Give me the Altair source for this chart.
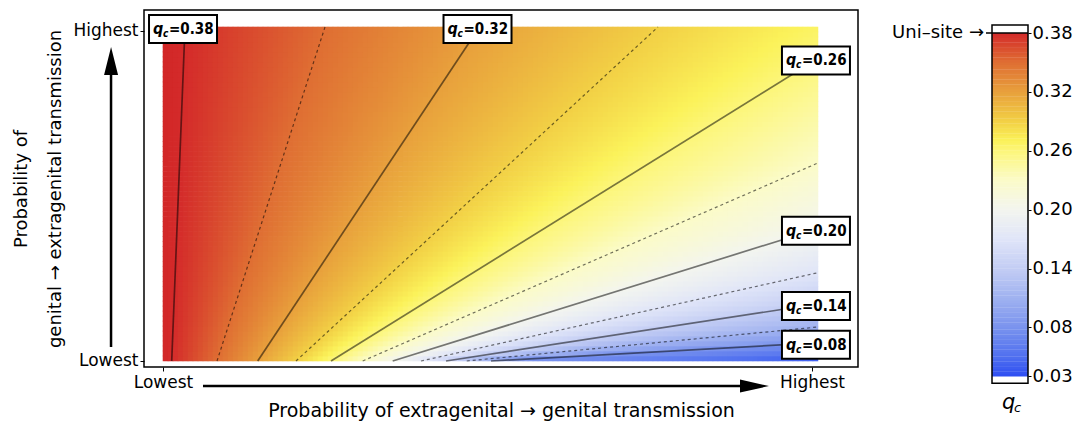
import numpy as np
import pandas as pd
import altair as alt

# ---------------- values ----------------
# contour levels (solid = labelled, dashed = intermediate)
levels    = [0.38, 0.35, 0.32, 0.29, 0.26, 0.23, 0.20, 0.17, 0.14, 0.11, 0.08]
line_kind = ["solid", "dashed", "solid", "dashed", "solid", "dashed",
             "solid", "dashed", "solid", "dashed", "solid"]
# each contour starts on the lower edge (y = 0) and ends on the top or right edge
# (0 = "Lowest", 1 = "Highest")
start_x = [0.0134, 0.0832, 0.1459, 0.2049, 0.2589, 0.3077,
           0.3539, 0.3975, 0.4361, 0.4680, 0.5054]
end_x   = [0.0339, 0.2496, 0.4877, 0.7627, 1.0092, 1.0092,
           1.0092, 1.0092, 1.0092, 1.0092, 1.0092]
end_y   = [1.0121, 1.0121, 1.0121, 1.0121, 0.9167, 0.6000,
           0.4009, 0.2676, 0.1730, 0.1030, 0.0552]
left_edge_q    = 0.385   # value along the left edge
top_right_q    = 0.267   # value in the top-right corner
bottom_right_q = 0.035   # value in the bottom-right corner
label_levels = [0.38, 0.32, 0.26, 0.20, 0.14, 0.08]
cbar_ticks   = [0.38, 0.32, 0.26, 0.20, 0.14, 0.08, 0.03]
cbar_min, cbar_max = 0.03, 0.38
uni_site_q = 0.38
tick_values = [0, 1]
tick_labels = ["Lowest", "Highest"]
x_title = "Probability of extragenital → genital transmission"
y_title = ["Probability of", "genital → extragenital transmission"]

# ---------------- style / layout constants ----------------
FONT = "DejaVu Sans"
LFONT = "DejaVu Sans Condensed, DejaVu Sans"
FIELD_X_MAX, FIELD_Y_MAX = 1.0092, 1.0121
color_stops = [0.03, 0.05, 0.08, 0.11, 0.14, 0.17, 0.20, 0.23, 0.26, 0.27,
               0.29, 0.32, 0.35, 0.38, 0.39]
color_hex = ["#2e4ef2", "#5070ef", "#7a93ee", "#a0b2f0", "#c3cdf4", "#e0e5f8",
             "#f3f5ef", "#fbfbc8", "#fcf67a", "#fbf25a", "#f2d045", "#e8a03c",
             "#df6e33", "#d42a2a", "#cf2424"]
cscale = alt.Scale(domain=color_stops, range=color_hex, interpolate="rgb", clamp=True)
xsc = alt.Scale(domain=[-0.0293, 1.0709], nice=False, zero=False)
ysc = alt.Scale(domain=[-0.0182, 1.0636], nice=False, zero=False)

# ---------------- density field built from the contour readings ----------------
NX, NY = 131, 67
xs = (np.arange(NX) + 0.5) * FIELD_X_MAX / NX
ys = (np.arange(NY) + 0.5) * FIELD_Y_MAX / NY
right = sorted([(ey, lv) for lv, ex, ey in zip(levels, end_x, end_y) if ex >= 1.0])
right_y = [0.0] + [r[0] for r in right] + [FIELD_Y_MAX]
right_q = [bottom_right_q] + [r[1] for r in right] + [top_right_q]
recs = []
for yc in ys:
    kx, kq = [0.0], [left_edge_q]
    for lv, sx, ex, ey in zip(levels, start_x, end_x, end_y):
        if yc <= ey:
            kx.append(sx + (ex - sx) * yc / ey)
            kq.append(lv)
    kx.append(FIELD_X_MAX)
    kq.append(float(np.interp(yc, right_y, right_q)))
    qrow = np.interp(xs, kx, kq)
    for xc, q in zip(xs, qrow):
        recs.append((round(float(xc), 5), round(float(yc), 5), round(float(q), 5)))
heat_df = pd.DataFrame(recs, columns=["xc", "yc", "q"])
hx = FIELD_X_MAX / NX / 2 * 1.12
hy = FIELD_Y_MAX / NY / 2 * 1.12

lab_expr = " : ".join(f"datum.value == {v} ? '{t}'" for v, t in zip(tick_values, tick_labels)) + " : ''"
axis_common = dict(values=tick_values, labelExpr=lab_expr, grid=False, domain=False,
                   tickSize=4, tickColor="black", labelColor="black", titleColor="black",
                   labelFont=FONT, titleFont=FONT, labelFontSize=17,
                   titleFontWeight="normal", labelFlush=False)
xaxis = alt.Axis(labelPadding=3, titlePadding=11, titleFontSize=19, **axis_common)
yaxis = alt.Axis(labelPadding=2, titlePadding=8, titleFontSize=18, titleLineHeight=34,
                 **axis_common)


def MX(field=None, datum=None):
    if datum is not None:
        return alt.X(datum=datum, scale=xsc, axis=xaxis, title=x_title)
    return alt.X(field, type="quantitative", scale=xsc, axis=xaxis, title=x_title)


def MY(field=None, datum=None):
    if datum is not None:
        return alt.Y(datum=datum, scale=ysc, axis=yaxis, title=y_title)
    return alt.Y(field, type="quantitative", scale=ysc, axis=yaxis, title=y_title)


heat = alt.Chart(heat_df).transform_calculate(
    x0=f"datum.xc - {hx}", x1=f"datum.xc + {hx}",
    y0=f"datum.yc - {hy}", y1=f"datum.yc + {hy}",
).mark_rect(strokeWidth=0).encode(
    x=MX("x0"), x2="x1:Q", y=MY("y0"), y2="y1:Q",
    color=alt.Color("q:Q", scale=cscale, legend=None),
)

crow = []
for lv, kind, sx, ex, ey in zip(levels, line_kind, start_x, end_x, end_y):
    crow.append(dict(level=lv, kind=kind, o=0, x=sx, y=0.0))
    crow.append(dict(level=lv, kind=kind, o=1, x=ex, y=ey))
cont_df = pd.DataFrame(crow)


def line_layer(kind, **mk):
    return alt.Chart(cont_df).transform_filter(f"datum.kind == '{kind}'").mark_line(**mk).encode(
        x=MX("x"), y=MY("y"), detail="level:N", order="o:Q")


solid = line_layer("solid", color="black", strokeWidth=1.7, opacity=0.52)
dashed = line_layer("dashed", color="black", strokeWidth=1.2, opacity=0.55, strokeDash=[3, 3])

lab_rows = []
for lv in label_levels:
    i = levels.index(lv)
    lab_rows.append(dict(x=end_x[i], y=end_y[i], val=f"={lv:.2f}"))
lab_df = pd.DataFrame(lab_rows)
box = alt.Chart(lab_df).mark_rect(fill="white", stroke="black", strokeWidth=2,
                                  xOffset=-36, x2Offset=32, yOffset=-12, y2Offset=16).encode(
    x=MX("x"), x2="x:Q", y=MY("y"), y2="y:Q")
t_q = alt.Chart(lab_df).mark_text(align="left", baseline="middle", dx=-32, dy=2, font=LFONT,
                                  fontSize=16, fontWeight="bold", fontStyle="italic",
                                  color="black").encode(x=MX("x"), y=MY("y"), text=alt.value("q"))
t_c = alt.Chart(lab_df).mark_text(align="left", baseline="middle", dx=-22, dy=7, font=LFONT,
                                  fontSize=10, fontStyle="italic", fontWeight="bold",
                                  color="black").encode(x=MX("x"), y=MY("y"), text=alt.value("c"))
t_v = alt.Chart(lab_df).mark_text(align="left", baseline="middle", dx=-16, dy=2, font=LFONT,
                                  fontSize=15, fontWeight="bold",
                                  color="black").encode(x=MX("x"), y=MY("y"), text="val:N")

# arrows beside the axes (layout constants, drawn through the scales)
one = pd.DataFrame({"k": [0]})
V_X, V_Y0, V_Y1, V_TIP = -0.0801, 0.0424, 0.885, 0.9091
H_Y, H_X0, H_X1, H_TIP = -0.0758, 0.0616, 0.895, 0.9114
v_shaft = alt.Chart(one).mark_rule(strokeWidth=2.5, color="black").encode(
    x=MX(datum=V_X), y=MY(datum=V_Y0), y2=alt.Y2(datum=V_Y1))
v_head = alt.Chart(one).mark_point(shape="M0,-1L0.5,1L-0.5,1Z", size=784, filled=True,
                                   color="black", opacity=1, strokeWidth=0).encode(
    x=MX(datum=V_X), y=MY(datum=V_TIP))
h_shaft = alt.Chart(one).mark_rule(strokeWidth=2.5, color="black").encode(
    x=MX(datum=H_X0), x2=alt.X2(datum=H_X1), y=MY(datum=H_Y))
h_head = alt.Chart(one).mark_point(shape="M1,0L-1,-0.45L-1,0.45Z", size=841, filled=True,
                                   color="black", opacity=1, strokeWidth=0).encode(
    x=MX(datum=H_TIP), y=MY(datum=H_Y))

main = alt.layer(heat, dashed, solid, box, t_q, t_c, t_v, v_shaft, v_head, h_shaft, h_head).properties(
    width=714, height=357, view=alt.ViewBackground(stroke="black", strokeWidth=1.5))

# ---------------- colour bar ----------------
CB_W, CB_H = 157, 380
BAR_X0, BAR_X1 = 121, 157
cbx = alt.Scale(domain=[0, CB_W], nice=False, zero=False)
cby = alt.Scale(domain=[0.01623, 0.40344], nice=False, zero=False)
step = 0.0025
q0s = np.arange(cbar_min, cbar_max - 1e-9, step)
grad_df = pd.DataFrame({"q0": q0s, "q1": np.minimum(q0s + step * 1.15, cbar_max),
                        "qm": q0s + step / 2})
FRAME_Q0, FRAME_Q1 = 0.0231, 0.3882

cb_axis = alt.Axis(orient="right", values=cbar_ticks, format=".2f", grid=False, domain=False,
                   tickSize=3, tickColor="black", labelColor="black", labelFont=FONT,
                   labelFontSize=18, labelPadding=1, title=None)


def CX(datum):
    return alt.X(datum=datum, scale=cbx, axis=None)


def CY(field=None, datum=None):
    if datum is not None:
        return alt.Y(datum=datum, scale=cby, axis=cb_axis, title=None)
    return alt.Y(field, type="quantitative", scale=cby, axis=cb_axis, title=None)


cb_bg = alt.Chart(one).mark_rect(fill="white", strokeWidth=0).encode(
    x=CX(BAR_X0), x2=alt.X2(datum=BAR_X1), y=CY(datum=FRAME_Q0), y2=alt.Y2(datum=FRAME_Q1))
cb_grad = alt.Chart(grad_df).mark_rect(strokeWidth=0).encode(
    x=CX(BAR_X0), x2=alt.X2(datum=BAR_X1), y=CY("q0"), y2="q1:Q",
    color=alt.Color("qm:Q", scale=cscale, legend=None))
cb_frame = alt.Chart(one).mark_rect(fillOpacity=0, stroke="black", strokeWidth=1.5).encode(
    x=CX(BAR_X0), x2=alt.X2(datum=BAR_X1), y=CY(datum=FRAME_Q0), y2=alt.Y2(datum=FRAME_Q1))
uni_rule = alt.Chart(one).mark_rule(strokeWidth=1.5, color="black").encode(
    x=CX(115), x2=alt.X2(datum=BAR_X1), y=CY(datum=uni_site_q))
uni_text = alt.Chart(one).mark_text(align="right", baseline="middle", font=FONT, fontSize=18,
                                    color="black").encode(
    x=CX(113), y=CY(datum=uni_site_q), text=alt.value("Uni–site →"))
QT_Y = 0.003
cb_tq = alt.Chart(one).mark_text(align="left", baseline="middle", font=FONT, fontSize=21,
                                 fontStyle="italic", color="black").encode(
    x=CX(131), y=CY(datum=QT_Y), text=alt.value("q"))
cb_tc = alt.Chart(one).mark_text(align="left", baseline="middle", font=FONT, fontSize=13,
                                 fontStyle="italic", color="black", dy=5).encode(
    x=CX(143), y=CY(datum=QT_Y), text=alt.value("c"))

cbar = alt.layer(cb_bg, cb_grad, cb_frame, uni_rule, uni_text, cb_tq, cb_tc).properties(
    width=CB_W, height=CB_H, view=alt.ViewBackground(stroke="transparent"))

chart = alt.hconcat(main, cbar, spacing=12).properties(
    padding={"left": 12, "top": 9, "right": 2, "bottom": 2}, background="white"
).configure(font=FONT).configure_view(strokeWidth=0)

chart.save("out.html", embed_options={"renderer": "svg", "actions": False})
